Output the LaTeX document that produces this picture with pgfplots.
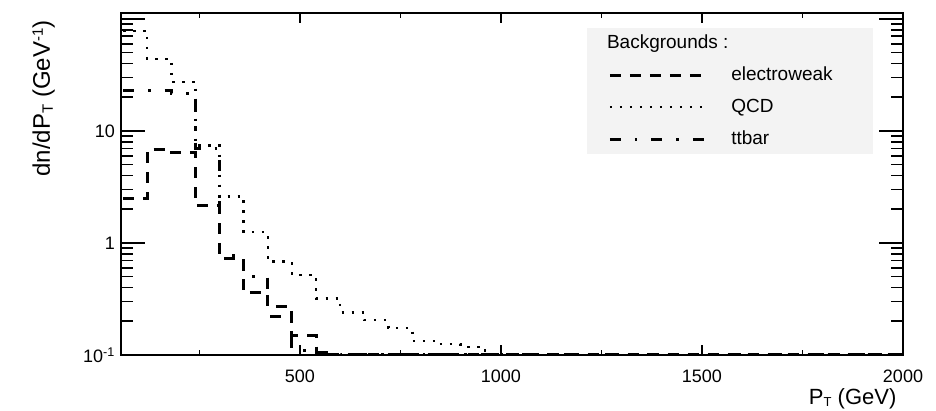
\documentclass[border=0pt]{standalone}
\usepackage{pgfplots}
\pgfplotsset{compat=1.18}
\usepackage{pgfplotstable}
\usepackage{fontspec}
\setmainfont{Liberation Sans}
\definecolor{legendgray}{RGB}{243,243,243}

% bin low edge (GeV) and dn/dPT; empty bins sit at the frame floor
\pgfplotstableread{
x y
60 2.5
120 6.9
180 6.4
240 2.15
300 0.73
360 0.36
420 0.27
480 0.15
540 0.1
2000 0.1
}\ewtab

\pgfplotstableread{
x y
60 78
120 44
180 27.4
240 7.4
300 2.6
360 1.25
420 0.68
480 0.52
540 0.32
600 0.24
660 0.205
720 0.174
780 0.133
840 0.125
900 0.118
960 0.102
1020 0.1
2000 0.1
}\qcdtab

\pgfplotstableread{
x y
60 23
120 23
180 21.5
240 7.0
300 0.78
360 0.5
420 0.22
480 0.11
540 0.105
600 0.1
2000 0.1
}\tttab

\begin{document}
\begin{tikzpicture}[x=1pt,y=1pt]
\path[use as bounding box] (0,0) rectangle (936,411);

% x ticks (short, as on the horizontal axis)
\begin{axis}[
  width=782pt, height=342pt, scale only axis,
  at={(121pt,56pt)}, anchor=south west,
  xmin=55, xmax=2000, ymode=log, ymin=0.1, ymax=113,
  axis line style={line width=2pt},
  tick style={line width=1.6pt, black},
  tick align=inside,
  tick label style={font=\fontsize{18}{20}\selectfont},
  /pgf/number format/assume math mode=true,
  ymajorticks=false, yminorticks=false,
  xtick={500,1000,1500,2000},
  xticklabels={500,1000,1500,2000},
  minor xtick={250,750,1250,1750},
  major tick length=10pt, minor tick length=5pt,
  xticklabel style={inner sep=0pt, yshift=-15pt},
]
\end{axis}

% y ticks, histograms, legend and titles
\begin{axis}[
  width=782pt, height=342pt, scale only axis,
  at={(121pt,56pt)}, anchor=south west,
  xmin=55, xmax=2000, ymode=log, ymin=0.1, ymax=113,
  axis line style={line width=2pt},
  tick style={line width=1.6pt, black},
  tick align=inside,
  tick label style={font=\fontsize{18}{20}\selectfont},
  /pgf/number format/assume math mode=true,
  xmajorticks=false, xminorticks=false,
  ytick={0.1,1,10,100},
  yticklabels={\raisebox{-9pt}{10\textsuperscript{-1}},1,10,{}},
  minor ytick={0.2,0.3,0.4,0.5,0.6,0.7,0.8,0.9,2,3,4,5,6,7,8,9,20,30,40,50,60,70,80,90},
  major tick length=24pt, minor tick length=12pt,
  yticklabel style={inner sep=0pt, xshift=-6pt},
  ylabel={dn/dP\raisebox{-3pt}{\fontsize{15}{15}\selectfont T} (GeV\raisebox{7pt}{\fontsize{15}{15}\selectfont -1})},
  ylabel style={at={(axis description cs:-0.091,0.988)}, anchor=base east, font=\fontsize{24}{26}\selectfont},
  xlabel={P\raisebox{-2pt}{\fontsize{13}{13}\selectfont T} (GeV)},
  xlabel style={at={(axis description cs:0.996,-0.146)}, anchor=base east, font=\fontsize{22}{24}\selectfont},
  legend style={at={(0.596,0.956)}, anchor=north west, draw=none, fill=legendgray,
    font=\fontsize{19}{22}\selectfont, inner xsep=21pt, inner ysep=6pt,
    row sep=14pt, column sep=25pt,
    nodes={inner sep=0pt, text height=14pt, text depth=4pt}},
  legend cell align=left,
  legend image code/.code={\draw[#1] (0pt,0pt) -- (95pt,0pt);},
]
\addlegendimage{empty legend}
\addlegendentry{\hspace*{-128pt}Backgrounds :}

\addplot[const plot, black, line width=3pt, dash pattern=on 11pt off 9pt] table {\ewtab};
\addlegendentry{\makebox[121pt][l]{electroweak}}

\addplot[const plot, black, line width=2.5pt, dash pattern=on 2.5pt off 7.5pt] table {\qcdtab};
\addlegendentry{QCD}

\addplot[const plot, black, line width=3pt, dash pattern=on 11pt off 14pt on 2.5pt off 14pt] table {\tttab};
\addlegendentry{ttbar}
\end{axis}
\end{tikzpicture}
\end{document}
